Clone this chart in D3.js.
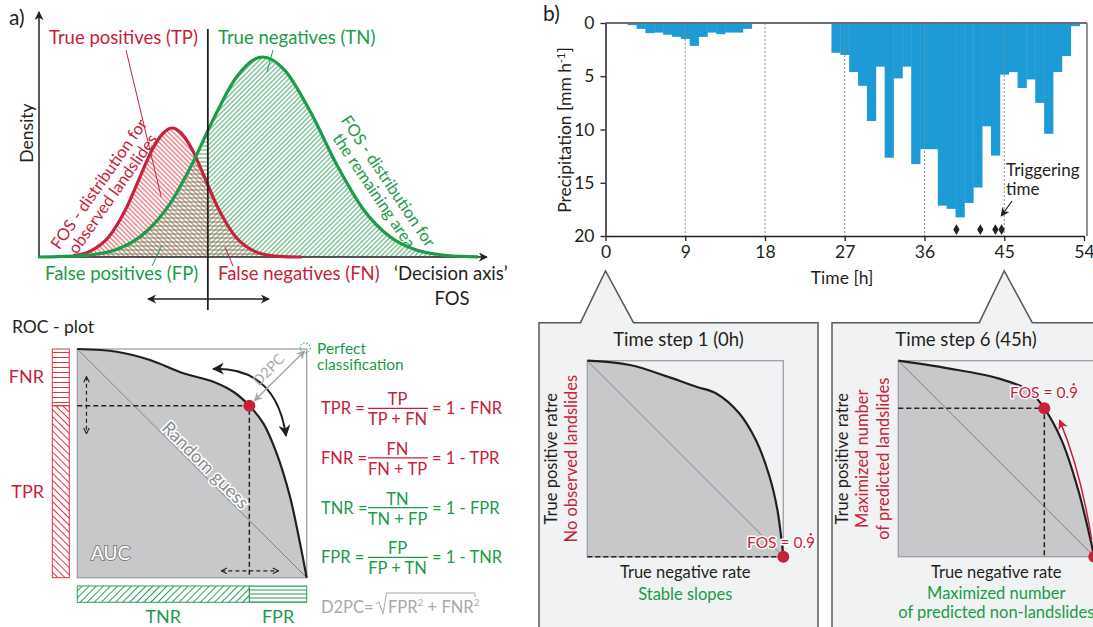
<!DOCTYPE html>
<html>
<head>
<meta charset="utf-8">
<script src="https://cdn.jsdelivr.net/npm/d3@7"></script>
<style>
  body { margin: 0; background: #fff; }
  svg text { font-family: Lato, 'Open Sans', sans-serif; fill: #231f20; }
</style>
</head>
<body>
<script>
// ---- data ----
// b) hourly precipitation
var precipHours = [3, 4, 5, 6, 7, 8, 9, 10, 11, 12, 13, 14, 15, 16,
  26, 27, 28, 29, 30, 31, 32, 33, 34, 35, 36, 37, 38, 39, 40, 41, 42, 43, 44, 45, 46, 47, 48, 49, 50, 51, 52, 53]
var precipMm = [0.2, 0.55, 0.95, 0.9, 1.1, 1.3, 1.5, 2.15, 1.3, 0.9, 1.05, 0.9, 0.9, 0.55,
  2.8, 3.0, 4.6, 5.9, 9.2, 4.1, 12.65, 5.2, 4.1, 13.25, 11.85, 11.85, 17.15, 17.45, 18.25, 16.9, 15.45, 9.7, 12.45, 4.85, 4.6, 6.1, 5.3, 7.5, 10.4, 4.6, 3.1, 0.3]
var landslideHours = [39.6, 42.3, 44.0, 44.7]
var landslideLevel = 19.4
var timeTicks = [0, 9, 18, 27, 36, 45, 54]
var precipTicks = [0, 5, 10, 15, 20]
var gridHours = [9, 18, 27, 36, 45]
var triggerHour = 45

// a) FOS densities [fos, density]
var densityLandslides = [[8, 0.7], [12, 3.1], [16, 9.9], [20, 24.2], [23, 39.1], [26, 53.9], [28.5, 62], [30.5, 64.5],
  [32.5, 62], [35, 53.9], [38, 39.1], [41, 24.2], [45, 9.9], [49, 3.1], [53, 0.7], [57, 0.1], [60, 0]]
var densityRemaining = [[0, 0], [10, 0.7], [18, 3.9], [25, 13.5], [30, 26.7], [35, 46.4], [40, 69.5], [45, 89.6],
  [51, 100], [56, 93.6], [62, 72.2], [68, 45.7], [74, 23.6], [80, 10.1], [86, 3.5], [92, 1.0], [98, 0.2], [100, 0.1]]
var fosThreshold = 38.6

// ROC curves [TNR, TPR]
var rocMain = [[0, 1], [0.172, 0.988], [0.317, 0.952], [0.462, 0.894], [0.593, 0.857], [0.68, 0.813], [0.75, 0.752],
  [0.811, 0.675], [0.869, 0.544], [0.927, 0.355], [0.971, 0.15], [1, 0]]
var rocMainPoint = [0.75, 0.752]
var rocStep1 = [[0, 1], [0.217, 0.978], [0.42, 0.915], [0.556, 0.867], [0.658, 0.833], [0.776, 0.731], [0.86, 0.595],
  [0.93, 0.408], [0.97, 0.238], [1, 0]]
var rocStep1Point = [1, 0]
var rocStep6 = [[0, 1], [0.255, 0.961], [0.51, 0.91], [0.663, 0.85], [0.745, 0.757], [0.833, 0.595], [0.918, 0.34], [1, 0]]
var rocStep6Point = [0.745, 0.757]

var formulaLhs = ['TPR', 'FNR', 'TNR', 'FPR']
var formulaNum = ['TP', 'FN', 'TN', 'FP']
var formulaDen = ['TP + FN', 'FN + TP', 'TN + FP', 'FP + TN']
var formulaRhs = ['1 - FNR', '1 - TPR', '1 - FPR', '1 - TNR']

// ---- drawing ----
var RED = '#c8213a', GREEN = '#1c9b48', HRED = '#e4323f', HGREEN = '#2a9d55', GREY = '#a7a9ac'
var W = 1093, H = 627

var svg = d3.select('body').append('svg').attr('width', W).attr('height', H)
svg.append('rect').attr('width', W).attr('height', H).attr('fill', '#fff')
var defs = svg.append('defs')

function hatch(id, color, angle, gap, w) {
  var p = defs.append('pattern').attr('id', id).attr('patternUnits', 'userSpaceOnUse')
    .attr('width', gap).attr('height', gap).attr('patternTransform', 'rotate(' + angle + ')')
  p.append('line').attr('x1', -1).attr('y1', gap / 2).attr('x2', gap + 1).attr('y2', gap / 2)
    .attr('stroke', color).attr('stroke-width', w)
}
hatch('hRedDiag', HRED, 45, 3.4, 0.9)
hatch('hRedHor', HRED, 0, 4, 0.9)
hatch('hGreenDiag', HGREEN, -45, 3.4, 0.9)
hatch('hGreenHor', HGREEN, 0, 4, 0.9)
hatch('bRedHor', HRED, 0, 5, 1)
hatch('bRedDiag', HRED, 45, 5, 1)
hatch('bGreenDiag', HGREEN, -45, 5, 1)
hatch('bGreenHor', HGREEN, 0, 4, 1)

function marker(id, color, size, open) {
  var m = defs.append('marker').attr('id', id).attr('viewBox', '0 0 10 10').attr('refX', 9).attr('refY', 5)
    .attr('markerUnits', 'userSpaceOnUse').attr('markerWidth', size).attr('markerHeight', size)
    .attr('orient', 'auto-start-reverse')
  if (open) m.append('path').attr('d', 'M1,1 L9,5 L1,9').attr('fill', 'none').attr('stroke', color).attr('stroke-width', 1.6)
  else m.append('path').attr('d', 'M0,0 L10,5 L0,10 L3,5 Z').attr('fill', color)
}
marker('aBlack', '#231f20', 12)
marker('aSmall', '#231f20', 9)
marker('aOpen', '#231f20', 7, true)
marker('aGrey', GREY, 9)
marker('aRed', RED, 10)

function halo(sel, w) {
  return sel.attr('stroke', '#fff').attr('stroke-width', w || 3).attr('stroke-linejoin', 'round').attr('paint-order', 'stroke')
}
function label(x, y, txt, size, color, anchor) {
  return svg.append('text').attr('x', x).attr('y', y).attr('font-size', size)
    .attr('text-anchor', anchor || 'start').style('fill', color || '#231f20').text(txt)
}

// ===== a) density plot =====
var fosX = d3.scaleLinear().domain([0, 100]).range([38, 478])
var densY = d3.scaleLinear().domain([0, 100]).range([257, 57])
var dArea = d3.area().x(function(d) { return fosX(d[0]) }).y0(densY(0)).y1(function(d) { return densY(d[1]) }).curve(d3.curveMonotoneX)
var dLine = d3.line().x(function(d) { return fosX(d[0]) }).y(function(d) { return densY(d[1]) }).curve(d3.curveMonotoneX)
var xt = fosX(fosThreshold)

defs.append('clipPath').attr('id', 'clipLs').append('path').attr('d', dArea(densityLandslides))
defs.append('clipPath').attr('id', 'clipRest').append('path').attr('d', dArea(densityRemaining))

var gLs = svg.append('g').attr('clip-path', 'url(#clipLs)')
var gRest = svg.append('g').attr('clip-path', 'url(#clipRest)')
gLs.append('rect').attr('x', fosX(0)).attr('y', densY(100)).attr('width', xt - fosX(0)).attr('height', densY(0) - densY(100)).attr('fill', 'url(#hRedDiag)')
gRest.append('rect').attr('x', fosX(0)).attr('y', densY(100)).attr('width', xt - fosX(0)).attr('height', densY(0) - densY(100)).attr('fill', 'url(#hGreenHor)')
gRest.append('rect').attr('x', xt).attr('y', densY(100)).attr('width', fosX(100) - xt).attr('height', densY(0) - densY(100)).attr('fill', 'url(#hGreenDiag)')
gLs.append('rect').attr('x', xt).attr('y', densY(100)).attr('width', fosX(100) - xt).attr('height', densY(0) - densY(100)).attr('fill', 'url(#hRedHor)')

// axes
svg.append('line').attr('x1', 39).attr('y1', densY(0)).attr('x2', 39).attr('y2', 12)
  .attr('stroke', '#231f20').attr('stroke-width', 1.5).attr('marker-end', 'url(#aSmall)')
svg.append('line').attr('x1', 39).attr('y1', densY(0)).attr('x2', 487).attr('y2', densY(0))
  .attr('stroke', '#231f20').attr('stroke-width', 1.5).attr('marker-end', 'url(#aSmall)')

svg.append('path').attr('d', dLine(densityLandslides)).attr('fill', 'none').attr('stroke', RED).attr('stroke-width', 3.2)
svg.append('path').attr('d', dLine(densityRemaining)).attr('fill', 'none').attr('stroke', GREEN).attr('stroke-width', 3.2)

// threshold
svg.append('line').attr('x1', xt).attr('y1', 29).attr('x2', xt).attr('y2', 310).attr('stroke', '#231f20').attr('stroke-width', 1.8)
svg.append('line').attr('x1', 148).attr('y1', 299).attr('x2', 269).attr('y2', 299)
  .attr('stroke', '#231f20').attr('stroke-width', 1.5).attr('marker-start', 'url(#aSmall)').attr('marker-end', 'url(#aSmall)')

label(9, 25, 'a)', 21)
svg.append('text').attr('transform', 'translate(33,133) rotate(-90)').attr('text-anchor', 'middle').attr('font-size', 17.5).text('Density')
label(49, 44, 'True positives (TP)', 18.5, RED)
label(218, 44, 'True negatives (TN)', 18.5, GREEN)
label(45, 280, 'False positives (FP)', 18.5, GREEN)
label(218, 280, 'False negatives (FN)', 18.5, RED)
label(394, 280, '\u2018Decision axis\u2019', 18.5)
label(452, 305, 'FOS', 18.5, null, 'middle')

// leaders
function leader(x1, y1, x2, y2, c) {
  svg.append('line').attr('x1', x1).attr('y1', y1).attr('x2', x2).attr('y2', y2).attr('stroke', c).attr('stroke-width', 1)
}
leader(126, 50, fosX(28), densY(30), RED)
leader(273, 50, 267, 72, GREEN)
leader(152, 266, 162, 245, GREEN)
leader(233, 266, 225, 247, RED)

var tLs = svg.append('text').attr('transform', 'translate(106,189) rotate(-55)').attr('text-anchor', 'middle').attr('font-size', 16.5).style('fill', RED)
tLs.append('tspan').attr('x', 0).attr('y', -3).text('FOS - distribution for')
tLs.append('tspan').attr('x', 0).attr('y', 14).text('observed landslides')
var tRest = svg.append('text').attr('transform', 'translate(381,186) rotate(56)').attr('text-anchor', 'middle').attr('font-size', 16.5).style('fill', GREEN)
tRest.append('tspan').attr('x', 0).attr('y', -3).text('FOS - distribution for')
tRest.append('tspan').attr('x', 0).attr('y', 14).text('the remaining area')

// ===== ROC plot =====
var rocX = d3.scaleLinear().domain([0, 1]).range([77.3, 306.7])
var rocY = d3.scaleLinear().domain([0, 1]).range([577.7, 349])
var rArea = function(sx, sy) {
  return d3.area().x(function(d) { return sx(d[0]) }).y0(sy(0)).y1(function(d) { return sy(d[1]) }).curve(d3.curveCatmullRom.alpha(0.5))
}
var rLine = function(sx, sy) {
  return d3.line().x(function(d) { return sx(d[0]) }).y(function(d) { return sy(d[1]) }).curve(d3.curveCatmullRom.alpha(0.5))
}

label(12, 333, 'ROC - plot', 17.5)

svg.append('path').attr('d', rArea(rocX, rocY)(rocMain)).attr('fill', '#c7c8ca')
svg.append('rect').attr('x', rocX(0)).attr('y', rocY(1)).attr('width', rocX(1) - rocX(0)).attr('height', rocY(0) - rocY(1))
  .attr('fill', 'none').attr('stroke', '#9d9fa2').attr('stroke-width', 1.3)
svg.append('line').attr('x1', rocX(0)).attr('y1', rocY(1)).attr('x2', rocX(1)).attr('y2', rocY(0)).attr('stroke', '#808285').attr('stroke-width', 1)

var px = rocX(rocMainPoint[0]), py = rocY(rocMainPoint[1])
svg.append('path').attr('d', 'M' + rocX(0) + ',' + py + 'H' + px + 'V' + rocY(0))
  .attr('fill', 'none').attr('stroke', '#231f20').attr('stroke-width', 1.5).attr('stroke-dasharray', '5,3')
svg.append('path').attr('d', rLine(rocX, rocY)(rocMain)).attr('fill', 'none').attr('stroke', '#231f20').attr('stroke-width', 2.2)

halo(svg.append('text').attr('transform', 'translate(' + rocX(0.54) + ',' + (rocY(0.46) - 3) + ') rotate(45)')
  .attr('text-anchor', 'middle').attr('font-size', 18).style('fill', '#8a8c8e').text('Random guess'), 3)
svg.append('text').attr('x', 91).attr('y', 560).attr('font-size', 19).style('fill', '#fff')
  .attr('stroke', '#808285').attr('stroke-width', 2).attr('paint-order', 'stroke').text('AUC')

// dashed double arrows
svg.append('line').attr('x1', rocX(0.04)).attr('y1', py - 29).attr('x2', rocX(0.04)).attr('y2', py + 28)
  .attr('stroke', '#231f20').attr('stroke-width', 1.2).attr('stroke-dasharray', '4,3')
  .attr('marker-start', 'url(#aOpen)').attr('marker-end', 'url(#aOpen)')
svg.append('line').attr('x1', px - 28).attr('y1', rocY(0.03)).attr('x2', px + 29).attr('y2', rocY(0.03))
  .attr('stroke', '#231f20').attr('stroke-width', 1.2).attr('stroke-dasharray', '4,3')
  .attr('marker-start', 'url(#aOpen)').attr('marker-end', 'url(#aOpen)')

// curved arrow along the curve
svg.append('path').attr('d', 'M' + rocX(0.592) + ',' + rocY(0.913) + ' Q' + rocX(0.866) + ',' + rocY(0.921) + ' ' + rocX(0.91) + ',' + rocY(0.62))
  .attr('fill', 'none').attr('stroke', '#231f20').attr('stroke-width', 2)
  .attr('marker-start', 'url(#aBlack)').attr('marker-end', 'url(#aBlack)')

// D2PC
svg.append('line').attr('x1', px + 5).attr('y1', py - 5).attr('x2', rocX(1) - 2).attr('y2', rocY(1) + 2)
  .attr('stroke', GREY).attr('stroke-width', 1.6).attr('marker-start', 'url(#aGrey)').attr('marker-end', 'url(#aGrey)')
svg.append('text').attr('transform', 'translate(' + ((px + rocX(1)) / 2 - 6) + ',' + ((py + rocY(1)) / 2 - 4) + ') rotate(-45)')
  .attr('text-anchor', 'middle').attr('font-size', 14.5).style('fill', GREY).text('D2PC')
svg.append('circle').attr('cx', rocX(1) - 1.5).attr('cy', rocY(1) - 1).attr('r', 5)
  .attr('fill', 'none').attr('stroke', GREEN).attr('stroke-width', 1).attr('stroke-dasharray', '1.5,1.5')
var pc = svg.append('text').attr('font-size', 15.5).style('fill', GREEN)
pc.append('tspan').attr('x', 317).attr('y', 354).text('Perfect')
pc.append('tspan').attr('x', 317).attr('y', 369.5).text('classification')

svg.append('circle').attr('cx', px).attr('cy', py).attr('r', 6).attr('fill', RED)

// rate bars
function bar(x, y, w, h, fill, stroke) {
  svg.append('rect').attr('x', x).attr('y', y).attr('width', w).attr('height', h)
    .attr('fill', fill).attr('stroke', stroke).attr('stroke-width', 1)
}
bar(52.3, rocY(1), 17, py - rocY(1), 'url(#bRedHor)', HRED)
bar(52.3, py, 17, rocY(0) - py, 'url(#bRedDiag)', HRED)
bar(rocX(0), 586, px - rocX(0), 16.3, 'url(#bGreenDiag)', HGREEN)
bar(px, 586, rocX(1) - px, 16.3, 'url(#bGreenHor)', HGREEN)
label(44, (rocY(1) + py) / 2 + 6, 'FNR', 18, RED, 'end')
label(44, (py + rocY(0)) / 2 + 6, 'TPR', 18, RED, 'end')
label((rocX(0) + px) / 2, 623, 'TNR', 18, GREEN, 'middle')
label((px + rocX(1)) / 2, 623, 'FPR', 18, GREEN, 'middle')

// formulas
var rowY = d3.scaleLinear().domain([0, 3]).range([408.3, 557.3])
formulaLhs.forEach(function(l, i) {
  var c = i < 2 ? RED : GREEN, y = rowY(i)
  label(321, y + 6, l + ' =', 16.5, c)
  label(397.5, y - 3, formulaNum[i], 16.5, c, 'middle')
  label(397.5, y + 17, formulaDen[i], 16.5, c, 'middle')
  svg.append('line').attr('x1', 368).attr('x2', 428).attr('y1', y).attr('y2', y).attr('stroke', c).attr('stroke-width', 1.2)
  label(432, y + 6, '= ' + formulaRhs[i], 16.5, c)
})
label(321, 613, 'D2PC=', 16.5, GREY)
svg.append('path').attr('d', 'M376,604 L379,602 L383,614 L386.5,593 L475,593 L475,597')
  .attr('fill', 'none').attr('stroke', GREY).attr('stroke-width', 1)
var sq = svg.append('text').attr('x', 388).attr('y', 613).attr('font-size', 16.5).style('fill', GREY)
sq.append('tspan').text('FPR')
sq.append('tspan').attr('font-size', 10).attr('dy', -7).text('2')
sq.append('tspan').attr('dy', 7).text(' + FNR')
sq.append('tspan').attr('font-size', 10).attr('dy', -7).text('2')

// ===== b) precipitation =====
var tX = d3.scaleLinear().domain([0, 54]).range([605.5, 1084])
var pY = d3.scaleLinear().domain([0, 20]).range([23, 236])

svg.append('g').selectAll('rect').data(precipHours).join('rect')
  .attr('x', function(h) { return tX(h - 0.5) })
  .attr('width', tX(1) - tX(0) + 0.4)
  .attr('y', pY(0))
  .attr('height', function(h, i) { return pY(precipMm[i]) - pY(0) })
  .attr('fill', '#1e9bd7')

svg.append('g').selectAll('line').data(gridHours).join('line')
  .attr('x1', function(h) { return tX(h) }).attr('x2', function(h) { return tX(h) })
  .attr('y1', pY(0)).attr('y2', pY(20))
  .attr('stroke', '#8a8c8e').attr('stroke-width', 1).attr('stroke-dasharray', '2,2')

svg.append('line').attr('x1', tX(0)).attr('x2', tX(54) + 3).attr('y1', pY(0)).attr('y2', pY(0)).attr('stroke', '#6d6e71').attr('stroke-width', 2)
svg.append('line').attr('x1', tX(54) + 3).attr('x2', tX(54) + 3).attr('y1', pY(0)).attr('y2', pY(20)).attr('stroke', '#6d6e71').attr('stroke-width', 1.5)

var yAx = svg.append('g').attr('transform', 'translate(' + tX(0) + ',0)')
  .call(d3.axisLeft(pY).tickValues(precipTicks).tickSize(5).tickPadding(6).tickSizeOuter(0))
var xAx = svg.append('g').attr('transform', 'translate(0,' + pY(20) + ')')
  .call(d3.axisBottom(tX).tickValues(timeTicks).tickSize(5).tickPadding(5).tickSizeOuter(0))
;[yAx, xAx].forEach(function(a) {
  a.select('.domain').attr('stroke', '#231f20').attr('stroke-width', 1.5)
  a.selectAll('.tick line').attr('stroke', '#231f20').attr('stroke-width', 1.3)
  a.selectAll('.tick text').attr('font-size', 17.5).attr('font-family', null).style('fill', '#231f20')
})

svg.append('g').selectAll('path').data(landslideHours).join('path')
  .attr('d', d3.symbol(d3.symbolDiamond, 34))
  .attr('transform', function(h) { return 'translate(' + tX(h) + ',' + pY(landslideLevel) + ')' })
  .attr('fill', '#231f20')

label(543, 21, 'b)', 21)
var yl = svg.append('text').attr('transform', 'translate(571,130) rotate(-90)').attr('text-anchor', 'middle').attr('font-size', 17.5)
yl.append('tspan').text('Precipitation [mm h')
yl.append('tspan').attr('font-size', 11).attr('dy', -6).text('-1')
yl.append('tspan').attr('dy', 6).text(']')
label(tX(26.7), 284, 'Time [h]', 17.5, null, 'middle')
label(1006, 176, 'Triggering', 17)
label(1006, 195, 'time', 17)
svg.append('line').attr('x1', 1012).attr('y1', 201).attr('x2', tX(triggerHour) - 3).attr('y2', 216)
  .attr('stroke', '#231f20').attr('stroke-width', 1.2).attr('marker-end', 'url(#aSmall)')

// ===== callout boxes =====
function callout(x0, x1, hour) {
  var ax = tX(hour)
  svg.append('path')
    .attr('d', 'M' + x0 + ',640 V322.7 H' + (ax - 25) + ' L' + ax + ',271 L' + (ax + 28) + ',322.7 H' + x1 + ' V640')
    .attr('fill', '#f1f2f3').attr('stroke', '#58595b').attr('stroke-width', 1.5)
}
callout(539, 818, 0)
callout(832, 1100, triggerHour)

function fosLabel(x, y) {
  var t = halo(svg.append('text').attr('x', x).attr('y', y).attr('font-size', 15.5).style('fill', RED).text('FOS = 0.9'), 3)
  var w = t.node().getComputedTextLength()
  halo(svg.append('circle').attr('cx', x + w - 4.3).attr('cy', y - 13.8).attr('r', 1.2).attr('fill', RED), 2)
}

function rocPanel(x0, curve, pt, dashV) {
  var sx = d3.scaleLinear().domain([0, 1]).range([x0, x0 + 196])
  var sy = d3.scaleLinear().domain([0, 1]).range([556.7, 360.7])
  svg.append('path').attr('d', rArea(sx, sy)(curve)).attr('fill', '#c7c8ca')
  svg.append('rect').attr('x', sx(0)).attr('y', sy(1)).attr('width', 196).attr('height', 196)
    .attr('fill', 'none').attr('stroke', '#9d9fa2').attr('stroke-width', 1.3)
  svg.append('line').attr('x1', sx(0)).attr('y1', sy(1)).attr('x2', sx(1)).attr('y2', sy(0)).attr('stroke', '#808285').attr('stroke-width', 1)
  var d = 'M' + sx(0) + ',' + sy(pt[1]) + 'H' + sx(pt[0])
  if (dashV) d += 'V' + sy(0)
  svg.append('path').attr('d', d).attr('fill', 'none').attr('stroke', '#231f20').attr('stroke-width', 1.5).attr('stroke-dasharray', '5,3')
  svg.append('path').attr('d', rLine(sx, sy)(curve)).attr('fill', 'none').attr('stroke', '#231f20').attr('stroke-width', 2.2)
  return { sx: sx, sy: sy }
}

// Time step 1
var s1 = rocPanel(587.3, rocStep1, rocStep1Point, false)
fosLabel(747, 548)
svg.append('circle').attr('cx', s1.sx(rocStep1Point[0])).attr('cy', s1.sy(rocStep1Point[1])).attr('r', 6).attr('fill', RED)
label(678.5, 346, 'Time step 1 (0h)', 18.5, null, 'middle')
label(s1.sx(0.5), 578, 'True negative rate', 16.5, null, 'middle')
label(s1.sx(0.5), 600, 'Stable slopes', 16.5, GREEN, 'middle')
var r1 = svg.append('text').attr('transform', 'translate(557,' + s1.sy(0.5) + ') rotate(-90)').attr('text-anchor', 'middle').attr('font-size', 16.5)
r1.append('tspan').attr('x', 0).attr('y', 0).text('True positive ratre')
r1.append('tspan').attr('x', 0).attr('y', 20).style('fill', RED).text('No observed landslides')

// Time step 6
var s6 = rocPanel(898.3, rocStep6, rocStep6Point, true)
svg.append('circle').attr('cx', s6.sx(rocStep6Point[0])).attr('cy', s6.sy(rocStep6Point[1])).attr('r', 6).attr('fill', RED)
svg.append('circle').attr('cx', s6.sx(1)).attr('cy', s6.sy(0)).attr('r', 6).attr('fill', RED)
fosLabel(1010, 398)
svg.append('path').attr('d', 'M' + s6.sx(0.987) + ',' + s6.sy(0.085) + ' Q' + s6.sx(0.93) + ',' + s6.sy(0.44) + ' ' + s6.sx(0.823) + ',' + s6.sy(0.697))
  .attr('fill', 'none').attr('stroke', RED).attr('stroke-width', 1.5).attr('marker-end', 'url(#aRed)')
label(966, 346, 'Time step 6 (45h)', 18.5, null, 'middle')
label(s6.sx(0.5), 578, 'True negative rate', 16.5, null, 'middle')
label(s6.sx(0.5), 599, 'Maximized number', 16.5, GREEN, 'middle')
label(s6.sx(0.5), 618, 'of predicted non-landslides', 16.5, GREEN, 'middle')
var r6 = svg.append('text').attr('transform', 'translate(848,' + s6.sy(0.5) + ') rotate(-90)').attr('text-anchor', 'middle').attr('font-size', 16.5)
r6.append('tspan').attr('x', 0).attr('y', 0).text('True positive ratre')
r6.append('tspan').attr('x', 0).attr('y', 20).style('fill', RED).text('Maximized number')
r6.append('tspan').attr('x', 0).attr('y', 41).style('fill', RED).text('of predicted landslides')
</script>
</body>
</html>
